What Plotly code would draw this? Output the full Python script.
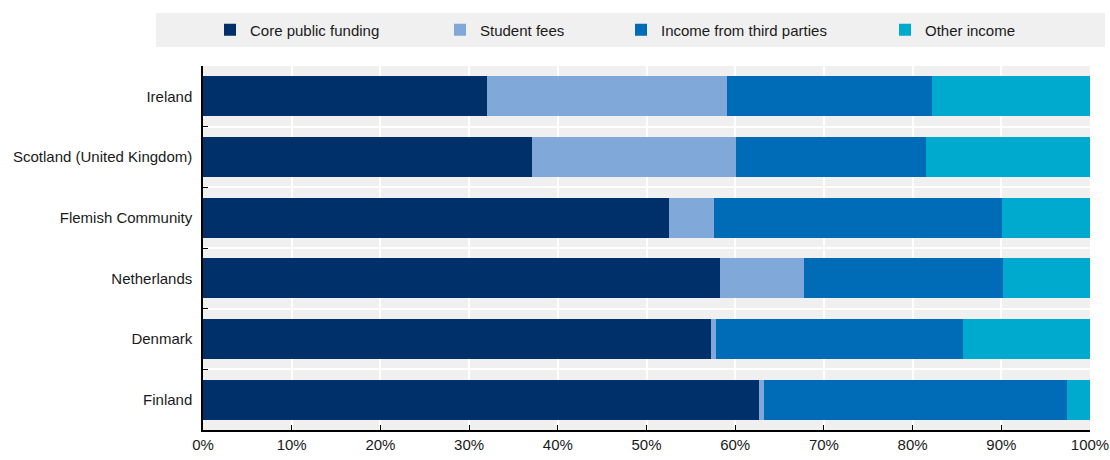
import plotly.graph_objects as go

countries = ["Ireland", "Scotland (United Kingdom)", "Flemish Community",
             "Netherlands", "Denmark", "Finland"]
core_public = [32.0, 37.1, 52.5, 58.3, 57.3, 62.7]
student_fees = [27.1, 23.0, 5.1, 9.4, 0.5, 0.5]
third_parties = [23.1, 21.4, 32.5, 22.5, 27.9, 34.2]
other_income = [17.8, 18.5, 9.9, 9.8, 14.3, 2.6]
x_tickvals = [0, 10, 20, 30, 40, 50, 60, 70, 80, 90, 100]
x_ticktext = ["0%", "10%", "20%", "30%", "40%", "50%", "60%", "70%", "80%", "90%", "100%"]

series = [
    ("Core public funding", core_public, "#00306A", "legend"),
    ("Student fees", student_fees, "#80A8D8", "legend2"),
    ("Income from third parties", third_parties, "#006CB7", "legend3"),
    ("Other income", other_income, "#00AACE", "legend4"),
]

FONT = "Liberation Sans Narrow, Arial Narrow, Liberation Sans, Arial, sans-serif"

fig = go.Figure()
for name, vals, color, lg in series:
    fig.add_trace(go.Bar(
        y=countries, x=vals, name=name, orientation="h",
        marker=dict(color=color, line=dict(width=0)),
        legend=lg, showlegend=True,
    ))

L, R, T, B = 203, 20, 66, 30
W, H = 1110, 460
pw = W - L - R
ph = H - T - B

def px_x(px):
    return (px - L) / pw

def px_y(py):
    return (H - B - py) / ph

leg_common = dict(orientation="h", bgcolor="rgba(0,0,0,0)", xanchor="left",
                  yanchor="middle", y=px_y(30),
                  font=dict(family=FONT, size=15, color="#1a1a1a"))

fig.update_layout(
    width=W, height=H,
    margin=dict(l=L, r=R, t=T, b=B, autoexpand=False),
    showlegend=True,
    barmode="stack", bargap=0.34,
    plot_bgcolor="#F0F0F0", paper_bgcolor="white",
    font=dict(family=FONT, size=15, color="#1a1a1a"),
    legend=dict(x=px_x(210), **leg_common),
    legend2=dict(x=px_x(440), **leg_common),
    legend3=dict(x=px_x(621), **leg_common),
    legend4=dict(x=px_x(885), **leg_common),
    shapes=[dict(type="rect", xref="paper", yref="paper",
                 x0=px_x(156), x1=px_x(1105), y0=px_y(47), y1=px_y(13),
                 fillcolor="#F0F0F0", line=dict(width=0), layer="below")],
    xaxis=dict(range=[0, 100], tickvals=x_tickvals, ticktext=x_ticktext,
               ticks="inside", ticklen=5, tickcolor="black",
               showline=True, linecolor="black", linewidth=1.5,
               showgrid=True, gridcolor="white", gridwidth=2,
               zeroline=False, automargin=False),
    yaxis=dict(type="category", autorange="reversed", tickson="boundaries",
               ticks="inside", ticklen=5, tickcolor="black",
               showline=True, linecolor="black", linewidth=1.5,
               showgrid=True, gridcolor="white", gridwidth=2,
               ticklabelstandoff=6, automargin=False),
)

fig.write_html("out.html", config={"displayModeBar": False},
               post_script="document.body.style.margin='0';document.body.style.overflow='hidden';")
